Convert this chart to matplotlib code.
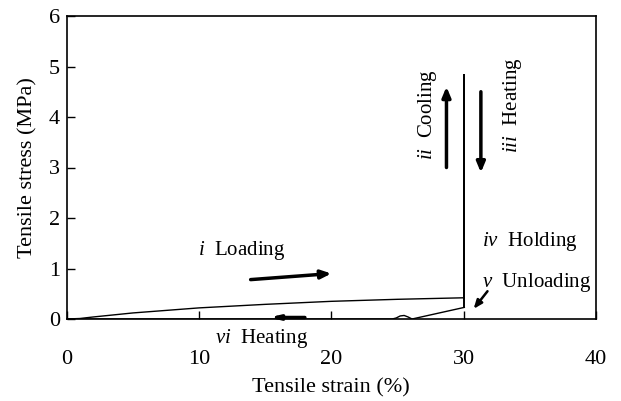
import matplotlib
matplotlib.use("Agg")
import matplotlib.pyplot as plt

plt.rcParams['font.family'] = ['Liberation Serif', 'DejaVu Serif']
plt.rcParams['mathtext.fontset'] = 'custom'
plt.rcParams['mathtext.it'] = 'Liberation Serif:italic'
plt.rcParams['mathtext.rm'] = 'Liberation Serif'

# Loading curve (i)
load_x = [0, 1, 2, 5, 10, 15, 20, 25, 30]
load_y = [0, 0.01, 0.04, 0.12, 0.22, 0.29, 0.35, 0.39, 0.42]
# Cooling / heating (ii, iii) vertical at 30 %
vert_x = [30, 30, 30.05, 30.05]
vert_y = [0.42, 4.83, 4.83, 0.23]
# Unloading (v) and heating (vi)
unload_x = [30.05, 26.1, 25.8, 25.5, 25.2, 24.9, 24.6, 20, 10, 0]
unload_y = [0.23, 0.0, 0.04, 0.07, 0.06, 0.02, 0.0, 0.0, 0.0, 0.0]

fig = plt.figure(figsize=(6.21, 4.01), dpi=100)
ax = fig.add_axes([66.7/621, 1 - 319/401, (596-66.7)/621, (319-16)/401])

ax.plot(load_x, load_y, color='black', lw=1.0)
ax.plot(vert_x, vert_y, color='black', lw=1.4)
ax.plot(unload_x, unload_y, color='black', lw=1.0)

for s in ax.spines.values():
    s.set_linewidth(1.2)
ax.set_xlim(0, 40)
ax.set_ylim(0, 6)
ax.set_xticks([0, 10, 20, 30, 40])
ax.set_yticks([0, 1, 2, 3, 4, 5, 6])
ax.tick_params(direction='in', length=6, width=1.0, labelsize=16)
ax.tick_params(axis='x', pad=22)
ax.tick_params(axis='y', pad=5)
ax.set_xlabel('Tensile strain (%)', fontsize=16, labelpad=7)
ax.set_ylabel('Tensile stress (MPa)', fontsize=16, labelpad=8)

arrow = dict(arrowstyle='-|>,head_length=0.6,head_width=0.25', color='black', lw=2.5,
             shrinkA=0, shrinkB=0)
fs = 15
# i Loading
ax.annotate('', xy=(20.0, 0.9), xytext=(13.9, 0.78), arrowprops=arrow)
ax.text(9.95, 1.36, r'$i$  Loading', fontsize=fs, va='center', ha='left')
# ii Cooling
ax.annotate('', xy=(28.7, 4.6), xytext=(28.7, 3.0), arrowprops=arrow)
ax.text(27.3, 4.04, r'$ii$  Cooling', fontsize=fs, rotation=90, va='center', ha='center')
# iii Heating
ax.annotate('', xy=(31.3, 2.9), xytext=(31.3, 4.5), arrowprops=arrow)
ax.text(33.7, 4.23, r'$iii$  Heating', fontsize=fs, rotation=90, va='center', ha='center')
# iv Holding
ax.text(31.4, 1.54, r'$iv$  Holding', fontsize=fs, va='center', ha='left')
# v Unloading
ax.text(31.4, 0.72, r'$v$  Unloading', fontsize=fs, va='center', ha='left')
ax.annotate('', xy=(30.75, 0.2), xytext=(31.8, 0.55),
            arrowprops=dict(arrowstyle='-|>,head_length=0.5,head_width=0.2', color='black', lw=1.8,
                            shrinkA=0, shrinkB=0))
# vi Heating
ax.annotate('', xy=(15.3, 0.03), xytext=(18.0, 0.03),
            arrowprops=dict(arrowstyle='-|>,head_length=0.5,head_width=0.12', color='black', lw=2.5,
                            shrinkA=0, shrinkB=0))
ax.text(11.2, -0.38, r'$vi$  Heating', fontsize=fs, va='center', ha='left', clip_on=False)

fig.savefig('out.png', dpi=100)
